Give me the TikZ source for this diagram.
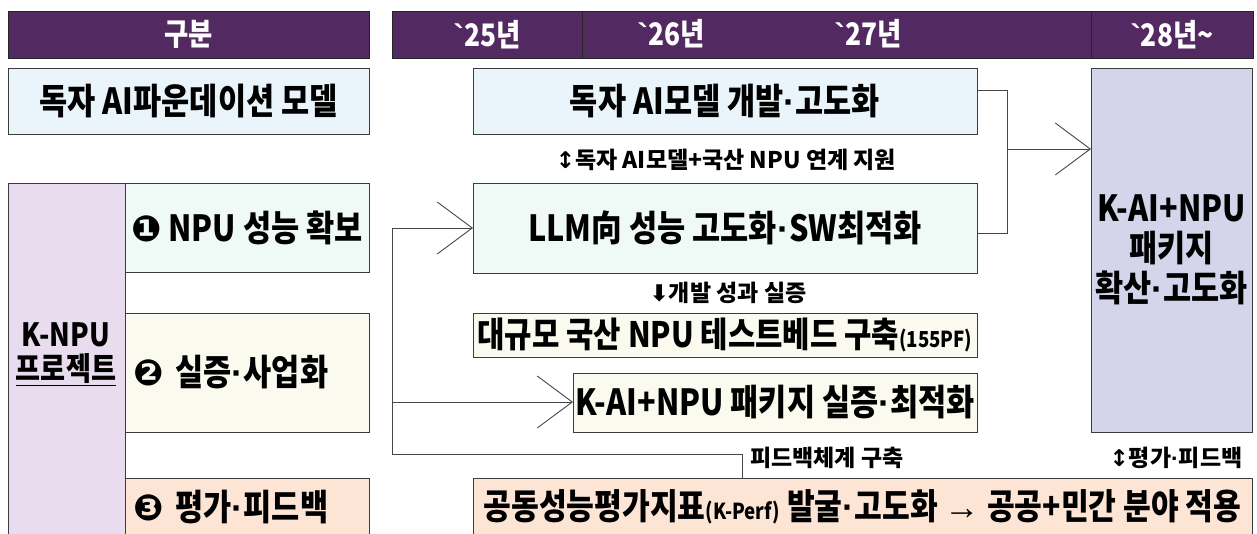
\documentclass[tikz,border=0pt]{standalone}
\usepackage{fontspec}
\usetikzlibrary{arrows.meta,calc}
\newfontfamily\kr{Noto Sans CJK KR}[FakeStretch=0.85]
\newfontfamily\krw{Noto Sans CJK KR}
\newfontfamily\djv{DejaVu Sans}
\newfontfamily\lib{Liberation Sans}
\newcommand{\md}{{\lib\bfseries\char"00B7}}
\newcommand{\bq}{{\lib\char"0060}}
\definecolor{hdr}{RGB}{82,41,96}
\definecolor{lblue}{RGB}{233,245,251}
\definecolor{mint}{RGB}{239,249,246}
\definecolor{cream}{RGB}{250,250,238}
\definecolor{peach}{RGB}{253,229,213}
\definecolor{lav}{RGB}{232,220,238}
\definecolor{pbox}{RGB}{212,212,235}
\definecolor{edge}{RGB}{60,60,60}
\definecolor{wire}{RGB}{70,70,70}
\tikzset{
 bx/.style={draw=edge, line width=0.9pt, inner sep=0pt, outer sep=0pt, anchor=north west, align=center, font=\kr\bfseries\fontsize{36}{40}\selectfont},
 hd/.style={draw=black!85, fill=hdr, line width=0.9pt, inner sep=0pt, outer sep=0pt, anchor=north west, text=white, font=\kr\bfseries\fontsize{31}{34}\selectfont},
 htx/.style={inner sep=0pt, text=white, font=\kr\bfseries\fontsize{31}{34}\selectfont},
 lbl/.style={inner sep=0pt, font=\krw\bfseries\fontsize{23}{24}\selectfont},
 wr/.style={draw=wire, line width=1pt},
 arr/.style={wr, -{Straight Barb[length=35pt,width=52pt,line width=0.9pt]}}
}
\begin{document}
\begin{tikzpicture}[x=1pt,y=-1pt]
\useasboundingbox (0,0) rectangle (1257,533);
\clip (0,0) rectangle (1257,533);
% headers
\node[hd, minimum width=361, minimum height=47] (hA) at (8,11) {구분};
\node[hd, minimum width=190, minimum height=47] (h25) at (392,11) {\bq 25년};
\node[hd, minimum width=509, minimum height=47] (h2627) at (582,11) {};
\node[htx] (t26) at (671,34) {\bq 26년};
\node[htx] (t27) at (868,34) {\bq 27년};
\node[hd, minimum width=162, minimum height=47] (h28) at (1091,11) {\bq 28년\textasciitilde};
% left column
\node[bx, fill=lav, minimum width=117, minimum height=360] (knpu) at (8,183) {};
\node[inner sep=0pt, align=center, font=\kr\bfseries\fontsize{32}{34}\selectfont] (knputx) at (66,354) {K-NPU\\\underline{프로젝트}};
\node[bx, fill=lblue, minimum width=361, minimum height=66] (fm) at (8,68) {독자 AI파운데이션 모델};
\node[bx, fill=mint, minimum width=244, minimum height=89] (p1) at (125,183) {{\djv ❶} NPU 성능 확보};
\node[bx, fill=cream, minimum width=244, minimum height=119, text width=228, align=left] (p2) at (125,313) {{\djv ❷} 실증\md 사업화};
\node[bx, fill=peach, minimum width=244, minimum height=58, text width=228, align=left] (p3) at (125,478) {{\djv ❸} 평가\md 피드백};
% right part
\node[bx, fill=lblue, minimum width=504, minimum height=66] (dev) at (473,68) {독자 AI모델 개발\md 고도화};
\node[bx, fill=pbox, minimum width=161, minimum height=364] (pkg) at (1091,68) {K-AI+NPU\\패키지\\확산\md 고도화};
\node[bx, fill=mint, minimum width=504, minimum height=90] (llm) at (473,183) {LLM向 성능 고도화\md SW최적화};
\node[bx, fill=cream, minimum width=504, minimum height=44, font=\kr\bfseries\fontsize{35}{40}\selectfont] (tb) at (473,313) {대규모 국산 NPU 테스트베드 구축{\fontsize{22}{24}\selectfont(155PF)}};
\node[bx, fill=cream, minimum width=404, minimum height=59] (pt) at (573,373) {K-AI+NPU 패키지 실증\md 최적화};
\node[bx, fill=peach, minimum width=779, minimum height=58, font=\kr\bfseries\fontsize{35.5}{40}\selectfont] (perf) at (473,478) {공동성능평가지표{\fontsize{22}{24}\selectfont(K-Perf)} 발굴\md 고도화 {\lib →} 공공+민간 분야 적용};
% labels
\node[lbl] (l1) at (726,160) {{\djv ↕}독자 AI모델+국산 NPU 연계 지원};
\node[lbl] (l2) at (728,293) {{\djv ⬇}개발 성과 실증};
\node[lbl, anchor=west] (l3) at (750,458) {피드백체계 구축};
\node[lbl] (l4) at (1176,458) {{\djv ↕}평가{\lib\bfseries\char"00B7}피드백};
% connectors
\coordinate (c1) at (1007,90);
\coordinate (c2) at (1007,233);
\coordinate (jn) at (1007,149);
\draw[wr] (dev.east |- c1) -- (c1) -- (c2) -- (llm.east |- c2);
\draw[arr] (jn) -- (pkg.west |- jn);
\coordinate (f1) at (742,454);
\coordinate (f2) at (392,454);
\coordinate (f3) at (392,228);
\coordinate (f4) at (392,402);
\draw[wr] (perf.north -| f1) -- (f1) -- (f2) -- (f3);
\draw[arr] (f3) -- (llm.west |- f3);
\draw[arr] (f4) -- (pt.west |- f4);
\end{tikzpicture}
\end{document}
